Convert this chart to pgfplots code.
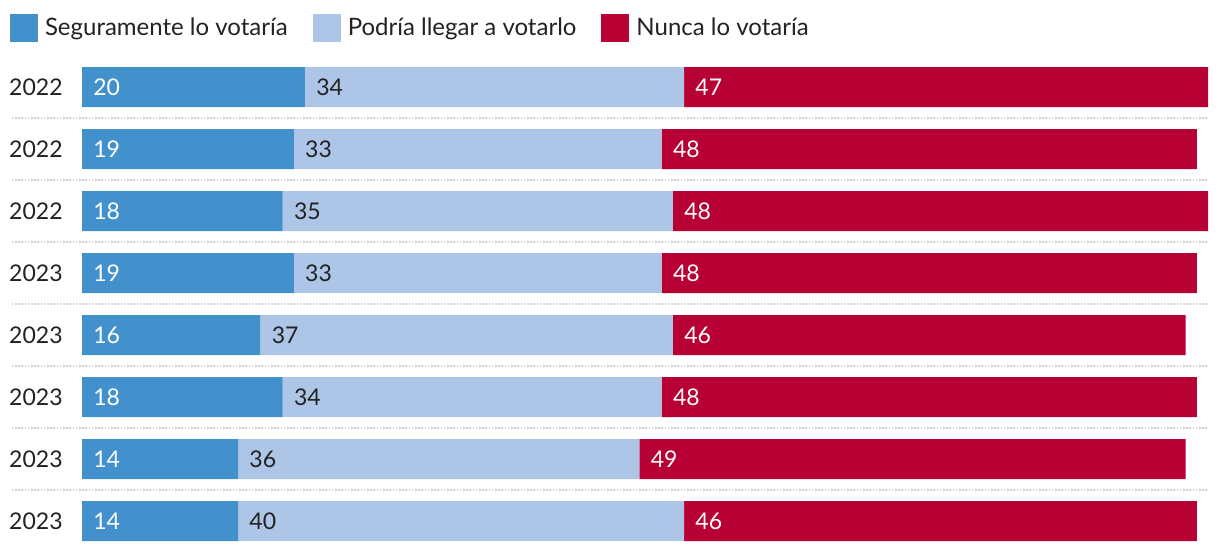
\documentclass[border=0pt]{standalone}
\usepackage{pgfplots}
\pgfplotsset{compat=1.18}
\usepackage{pgfplotstable}
\usepackage{fontspec}
\setmainfont{Lato}
\definecolor{cblue}{HTML}{4291CC}
\definecolor{clight}{HTML}{ADC5E6}
\definecolor{cred}{HTML}{B70033}
\definecolor{ctext}{HTML}{222222}
\definecolor{cgrid}{HTML}{CFCFCF}

\pgfplotstableread{
r a b c s1 s2 s3
0 20 34 47 0 20 54
1 19 33 48 0 19 52
2 18 35 48 0 18 53
3 19 33 48 0 19 52
4 16 37 46 0 16 53
5 18 34 48 0 18 52
6 14 36 49 0 14 50
7 14 40 46 0 14 54
}\data

\pgfplotsset{
  base/.style={
    at={(41pt,-28pt)}, anchor=north west,
    scale only axis, width=563pt, height=248pt,
    xmin=0, xmax=101, ymin=-0.5, ymax=7.5, y dir=reverse,
    clip=false,
  },
  lab/.style={only marks, mark=square, mark size=0pt, mark options={draw=none,fill=none},
    nodes near coords, point meta=explicit symbolic,
    nodes near coords style={anchor=west, inner sep=0pt, xshift=5.5pt, text=#1,
      font=\fontsize{11.5}{14}\selectfont}},
}

\begin{document}
\begin{tikzpicture}
\useasboundingbox (0,0) rectangle (610pt,-277pt);
\begin{axis}[base,
  xbar stacked, bar width=20pt,
  axis line style={draw=none}, major tick length=0pt,
  xtick=\empty,
  ytick={0,...,7},
  yticklabels={2022,2022,2022,2023,2023,2023,2023,2023},
  yticklabel style={anchor=east, inner sep=0pt, text=ctext, font=\fontsize{11.5}{14}\selectfont},
  yticklabel shift=9.5pt,
  legend columns=3,
  legend style={at={(axis description cs:0,1)}, anchor=north west, xshift=-36pt, yshift=21pt,
    draw=none, fill=none, inner sep=0pt, outer sep=0pt,
    font=\fontsize{12}{14}\selectfont, text=ctext,
    /tikz/every even column/.append style={column sep=12.5pt},
    nodes={inner sep=0pt, anchor=west}},
  legend image code/.code={\fill[#1,draw=none] (0pt,-7pt) rectangle (14pt,7pt);},
  legend cell align=left,
]
\foreach \yy in {0.5,1.5,...,6.5} {
  \edef\tmp{\noexpand\draw[cgrid, line width=0.6pt, dash pattern=on 0.8pt off 0.8pt] (axis cs:-6.3,\yy) -- (axis cs:101,\yy);}
  \tmp
}
\addplot[fill=cblue, draw=none] table[x=a, y=r] {\data};
\addlegendentry{\hspace{3.5pt}Seguramente lo votaría}
\addplot[fill=clight, draw=none] table[x=b, y=r] {\data};
\addlegendentry{\hspace{3.5pt}Podría llegar a votarlo}
\addplot[fill=cred, draw=none] table[x=c, y=r] {\data};
\addlegendentry{\hspace{3.5pt}Nunca lo votaría}
\end{axis}
\begin{axis}[base, hide axis]
\addplot[lab=white] table[x=s1, y=r, meta=a] {\data};
\addplot[lab=ctext] table[x=s2, y=r, meta=b] {\data};
\addplot[lab=white] table[x=s3, y=r, meta=c] {\data};
\end{axis}
\end{tikzpicture}
\end{document}
